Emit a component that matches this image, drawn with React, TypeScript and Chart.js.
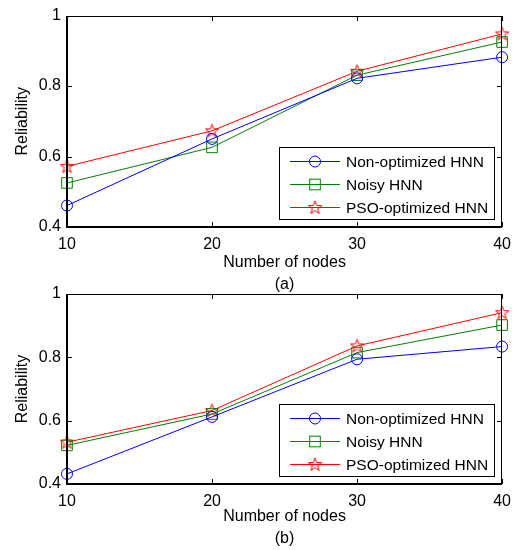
import React, { useEffect, useRef } from "react";
import { Chart, registerables } from "chart.js";

Chart.register(...registerables);

const nodes = [10, 20, 30, 40];
const seriesNames = ["Non-optimized HNN", "Noisy HNN", "PSO-optimized HNN"];
const aNonOptimized = [0.461, 0.65, 0.822, 0.882];
const aNoisy = [0.525, 0.626, 0.831, 0.925];
const aPso = [0.572, 0.673, 0.842, 0.948];
const bNonOptimized = [0.432, 0.612, 0.794, 0.834];
const bNoisy = [0.522, 0.621, 0.815, 0.902];
const bPso = [0.532, 0.632, 0.836, 0.941];
const yTicks = [0.4, 0.6, 0.8, 1];
const xTicks = [10, 20, 30, 40];
const xTitle = "Number of nodes";
const yTitle = "Reliability";
const panelLabels = ["(a)", "(b)"];

const FONT = "'Liberation Sans', Arial, Helvetica, sans-serif";
const COLORS = ["#0000ff", "#008000", "#ff0000"];

function makeStar(): HTMLCanvasElement {
  const c = document.createElement("canvas");
  c.width = 15;
  c.height = 15;
  const g = c.getContext("2d")!;
  const cx = 7.5, cy = 7.8, R = 7, r = 2.8;
  g.beginPath();
  for (let i = 0; i < 10; i++) {
    const rad = i % 2 === 0 ? R : r;
    const ang = -Math.PI / 2 + (i * Math.PI) / 5;
    const x = cx + rad * Math.cos(ang);
    const y = cy + rad * Math.sin(ang);
    if (i === 0) g.moveTo(x, y);
    else g.lineTo(x, y);
  }
  g.closePath();
  g.strokeStyle = "#ff0000";
  g.lineWidth = 1;
  g.stroke();
  return c;
}

const frameAndLegend = {
  id: "frameAndLegend",
  afterDraw(chart: any) {
    const { ctx, chartArea: a, scales } = chart;
    const L = Math.round(a.left), R = Math.round(a.right);
    const T = Math.round(a.top), B = Math.round(a.bottom);
    ctx.save();
    ctx.strokeStyle = "#000";
    ctx.lineWidth = 1;
    ctx.beginPath();
    ctx.moveTo(L, T + 0.5);
    ctx.lineTo(R, T + 0.5);
    ctx.moveTo(R - 0.5, T);
    ctx.lineTo(R - 0.5, B);
    ctx.stroke();
    ctx.lineWidth = 2;
    ctx.beginPath();
    ctx.moveTo(L, T);
    ctx.lineTo(L, B + 1);
    ctx.moveTo(L - 1, B);
    ctx.lineTo(R, B);
    ctx.stroke();
    ctx.lineWidth = 1;
    ctx.beginPath();
    const tl = 5;
    for (const v of yTicks) {
      const y = Math.round(scales.y.getPixelForValue(v)) + 0.5;
      ctx.moveTo(L, y);
      ctx.lineTo(L + tl, y);
      ctx.moveTo(R, y);
      ctx.lineTo(R - tl, y);
    }
    for (const v of xTicks) {
      const x = Math.round(scales.x.getPixelForValue(v)) + 0.5;
      ctx.moveTo(x, B);
      ctx.lineTo(x, B - tl);
      ctx.moveTo(x, T);
      ctx.lineTo(x, T + tl);
    }
    ctx.stroke();

    const bw = 215, bh = 72;
    const bx = R - 8 - bw, by = B - 8 - bh;
    ctx.fillStyle = "#fff";
    ctx.fillRect(bx, by, bw, bh);
    ctx.strokeStyle = "#000";
    ctx.lineWidth = 1;
    ctx.strokeRect(bx + 0.5, by + 0.5, bw, bh);
    chart.data.datasets.forEach((ds: any, i: number) => {
      const y = by + 14.5 + i * 23;
      ctx.strokeStyle = ds.borderColor;
      ctx.lineWidth = 1;
      ctx.beginPath();
      ctx.moveTo(bx + 11, y);
      ctx.lineTo(bx + 61, y);
      ctx.stroke();
      const mx = bx + 36;
      if (ds.pointStyle === "circle") {
        ctx.beginPath();
        ctx.arc(mx, y, ds.pointRadius, 0, Math.PI * 2);
        ctx.stroke();
      } else if (ds.pointStyle === "rect") {
        const s = ds.pointRadius * Math.SQRT1_2;
        ctx.strokeRect(mx - s, y - s, 2 * s, 2 * s);
      } else if (ds.pointStyle instanceof HTMLCanvasElement) {
        const img = ds.pointStyle;
        ctx.drawImage(img, mx - img.width / 2, y - img.height / 2);
      }
      ctx.fillStyle = "#000";
      ctx.font = `15.5px ${FONT}`;
      ctx.textBaseline = "middle";
      ctx.textAlign = "left";
      ctx.fillText(ds.label, bx + 67, y + 1);
    });
    ctx.restore();
  },
};

type Geo = { height: number; areaTop: number; areaBottom: number };

function makeConfig(series: number[][], label: string, geo: Geo, star: HTMLCanvasElement): any {
  const styles: any[] = ["circle", "rect", star];
  const radii = [5.5, 7.5, 7];
  return {
    type: "line",
    data: {
      datasets: series.map((vals, i) => ({
        label: seriesNames[i],
        data: nodes.map((n, j) => ({ x: n, y: vals[j] })),
        borderColor: COLORS[i],
        backgroundColor: "rgba(0,0,0,0)",
        borderWidth: 1,
        pointStyle: styles[i],
        pointRadius: radii[i],
        pointBorderWidth: 1,
        pointBorderColor: COLORS[i],
        pointBackgroundColor: "rgba(0,0,0,0)",
        tension: 0,
        clip: false,
      })),
    },
    options: {
      responsive: false,
      animation: false,
      devicePixelRatio: 1,
      layout: { padding: { top: geo.areaTop, right: 12, left: 0, bottom: 0 } },
      plugins: { legend: { display: false }, tooltip: { enabled: false }, title: { display: false } },
      scales: {
        x: {
          type: "linear",
          min: 10,
          max: 40,
          afterBuildTicks: (s: any) => {
            s.ticks = xTicks.map((v) => ({ value: v }));
          },
          afterFit: (s: any) => {
            s.height = geo.height - geo.areaBottom;
          },
          ticks: { color: "#000", font: { family: FONT, size: 16 }, padding: 8, maxRotation: 0 },
          grid: { display: false, drawTicks: false },
          border: { display: false },
          title: {
            display: true,
            text: [xTitle, label],
            color: "#000",
            font: { family: FONT, size: 16, lineHeight: 1.38 },
            padding: { top: 0, bottom: 0 },
          },
        },
        y: {
          type: "linear",
          min: 0.4,
          max: 1,
          afterBuildTicks: (s: any) => {
            s.ticks = yTicks.map((v) => ({ value: v }));
          },
          afterFit: (s: any) => {
            s.width = 67;
          },
          ticks: {
            color: "#000",
            font: { family: FONT, size: 16 },
            padding: 6,
            callback: (v: any) => String(Math.round(v * 10) / 10),
          },
          grid: { display: false, drawTicks: false },
          border: { display: false },
          title: {
            display: true,
            text: yTitle,
            color: "#000",
            font: { family: FONT, size: 16 },
            padding: { top: 13, bottom: 0 },
          },
        },
      },
    },
    plugins: [frameAndLegend],
  };
}

function Panel({ series, label, top, geo }: { series: number[][]; label: string; top: number; geo: Geo }) {
  const ref = useRef<HTMLCanvasElement>(null);
  useEffect(() => {
    const star = makeStar();
    const chart = new Chart(ref.current!, makeConfig(series, label, geo, star));
    return () => chart.destroy();
  }, []);
  return (
    <canvas
      ref={ref}
      width={519}
      height={geo.height}
      style={{ position: "absolute", left: 0, top, width: 519, height: geo.height }}
    />
  );
}

export default function App() {
  return (
    <div style={{ position: "absolute", left: 0, top: 0, width: 519, height: 550, background: "#fff" }}>
      <Panel
        series={[aNonOptimized, aNoisy, aPso]}
        label={panelLabels[0]}
        top={0}
        geo={{ height: 296, areaTop: 14, areaBottom: 227 }}
      />
      <Panel
        series={[bNonOptimized, bNoisy, bPso]}
        label={panelLabels[1]}
        top={270}
        geo={{ height: 280, areaTop: 24, areaBottom: 214 }}
      />
    </div>
  );
}
